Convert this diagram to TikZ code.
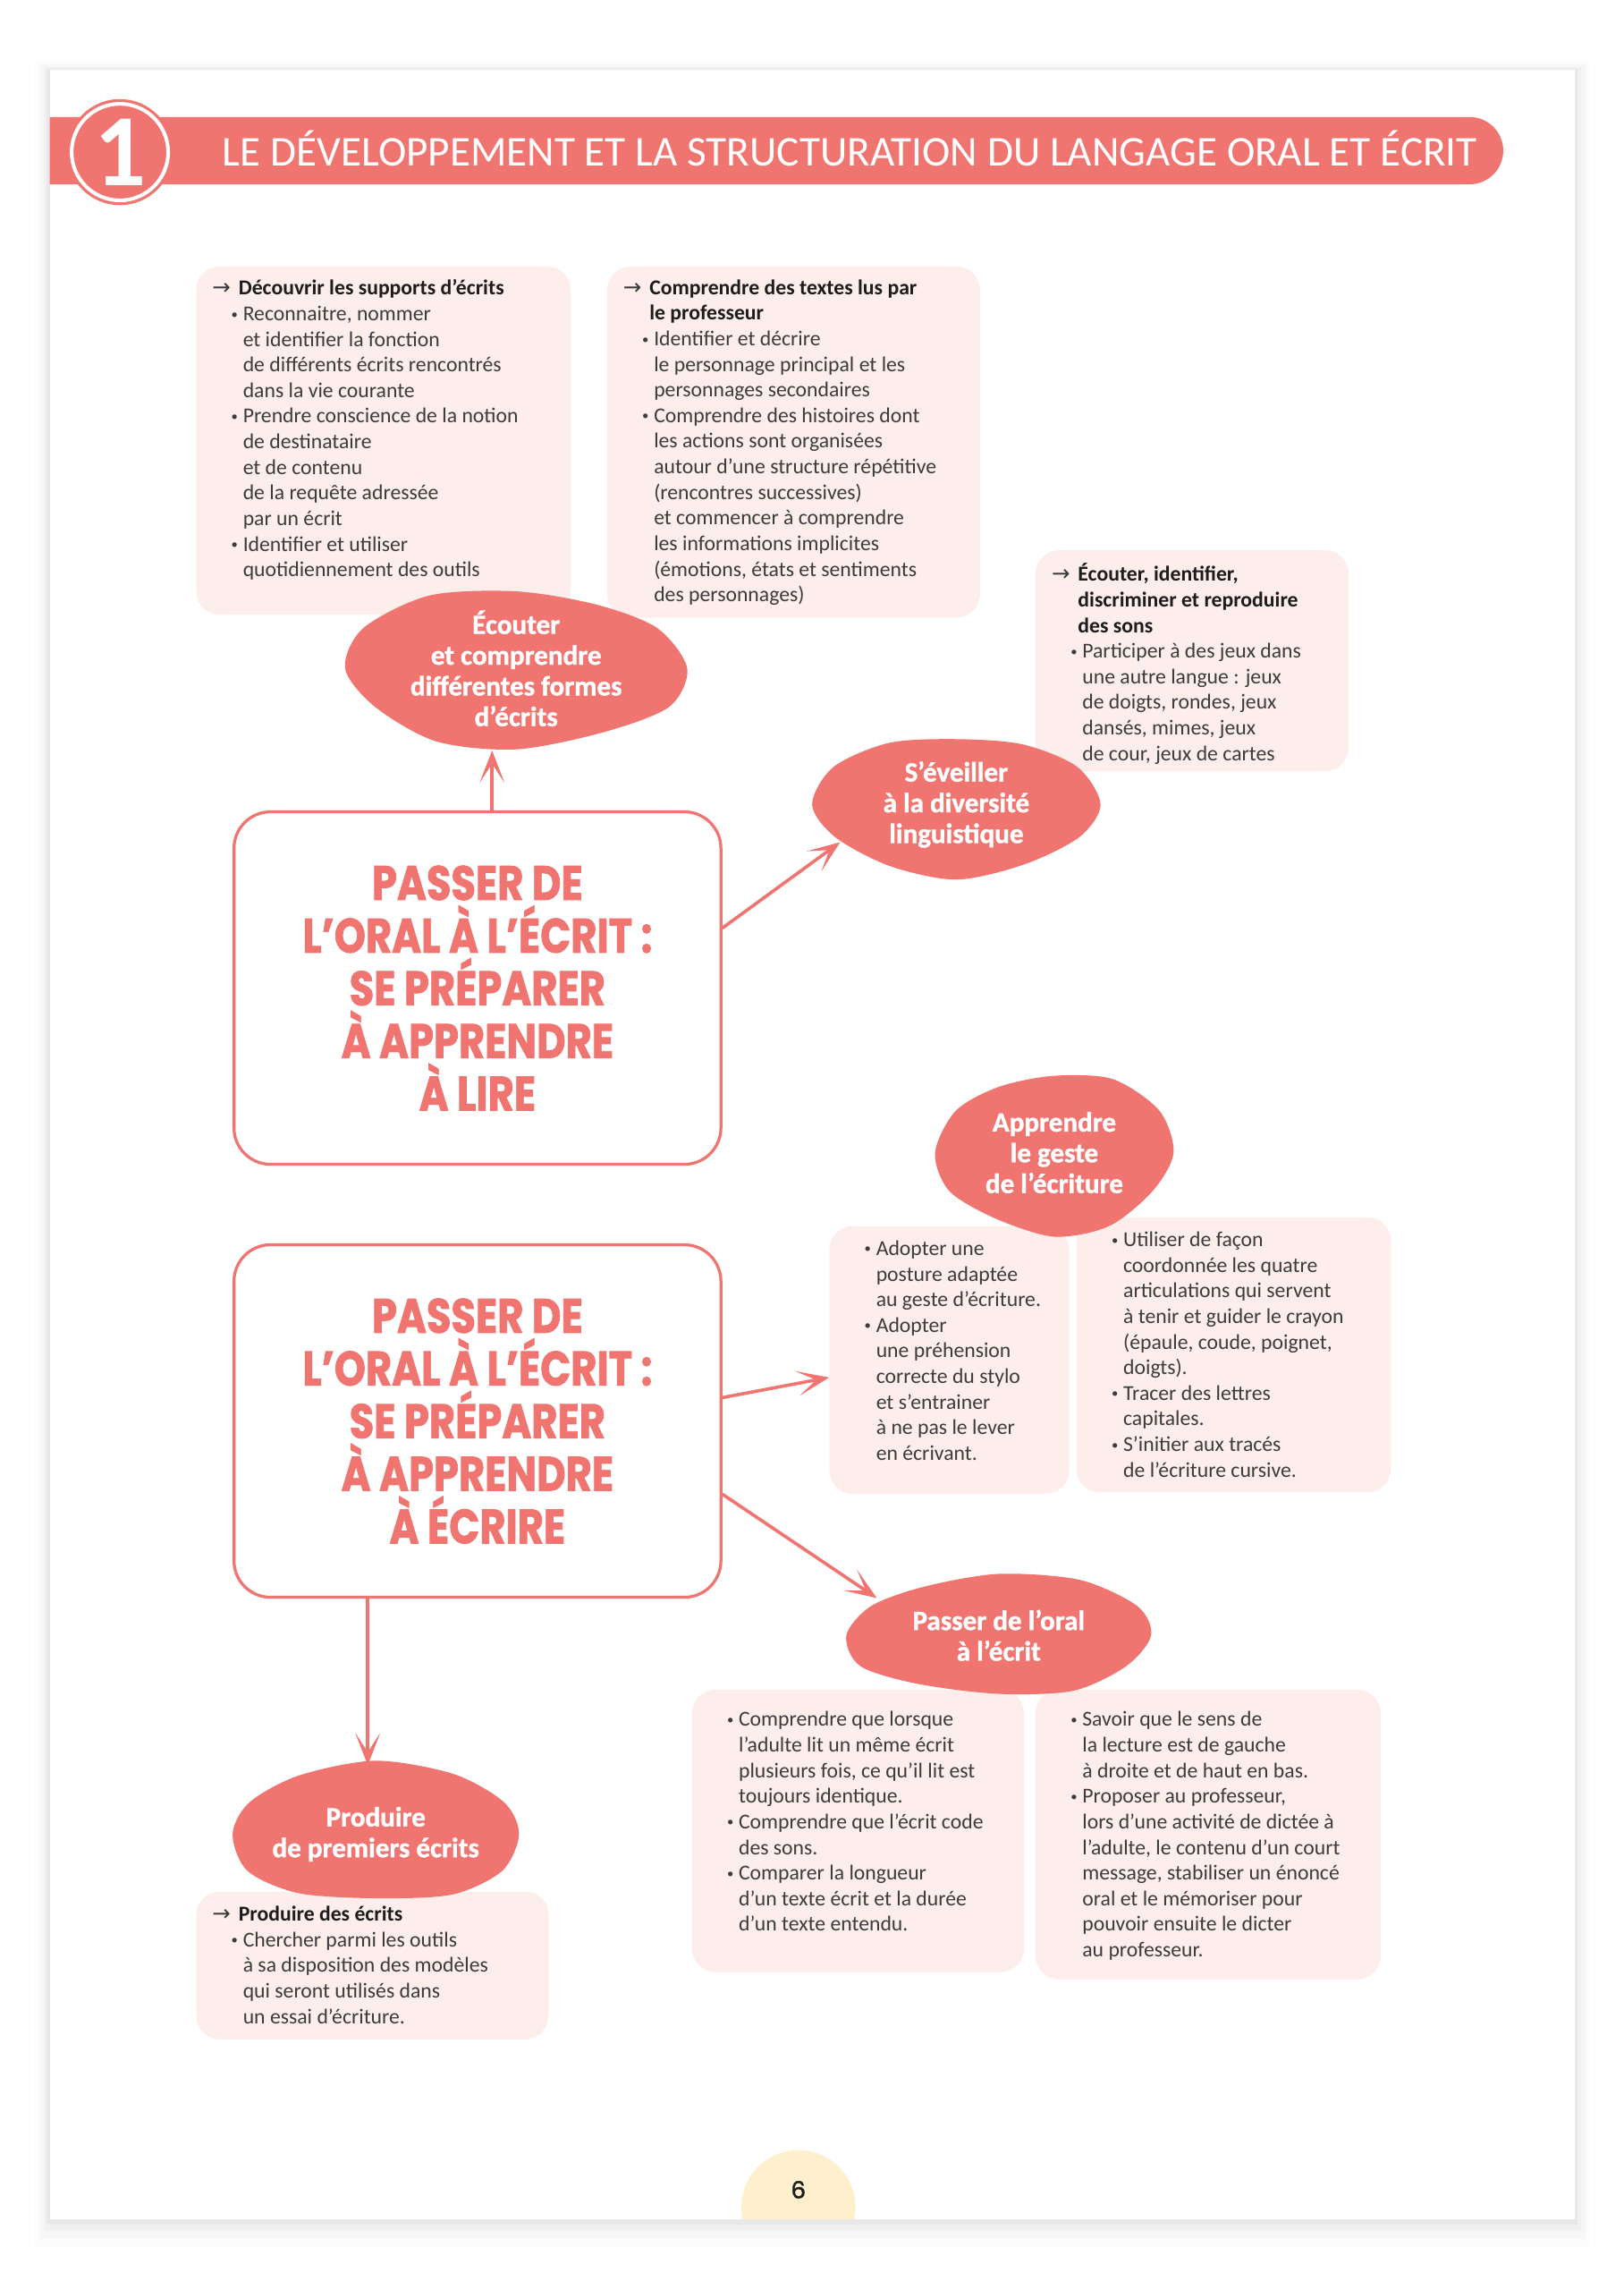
\documentclass[tikz,border=0pt]{standalone}
\usepackage{fontspec}
\usepackage{graphicx}
\setmainfont{Carlito}
\newfontfamily\heavyfont{Poppins}[FakeBold=1.6]
\newfontfamily\blobfont{Carlito}[BoldFeatures={FakeBold=1.2}]
\newfontfamily\symfont{DejaVu Sans}
\usetikzlibrary{shapes.geometric,arrows.meta}

\definecolor{salmon}{HTML}{F07470}
\definecolor{boxpink}{HTML}{FDEDEB}
\definecolor{bodygray}{HTML}{3C3C3C}
\definecolor{headblack}{HTML}{1C1C1C}
\definecolor{pagenum}{HTML}{FEF0CD}

% lines inside the pink boxes
\newcommand\hd[1]{\makebox[18pt][l]{\symfont\fontsize{15}{15}\selectfont →}\mbox{\bfseries\color{headblack}#1}}
\newcommand\hdc[1]{\hspace*{18pt}\mbox{\bfseries\color{headblack}#1}}
\newcommand\bl[1]{\hspace*{13pt}\makebox[8pt][l]{\raisebox{1.5pt}{\fontsize{9}{9}\selectfont•}}\mbox{#1}}
\newcommand\ct[1]{\hspace*{21pt}\mbox{#1}}
\newcommand\boxtext[4][9]{\begin{minipage}[t][#3pt][t]{#2pt}\fontsize{14.5}{17.5}\selectfont\vspace*{#1pt}#4\end{minipage}}
\newcommand\bigtitle[1]{\scalebox{0.83}[1]{\parbox{380pt}{\centering\lineskiplimit=-60pt #1\par}}}
\newcommand\blobfill[4]{\fill[salmon,shift={(#1)}] plot[smooth cycle,domain=0:330,samples=12]
  ({#2*cos(\x)*(1+0.05*sin(2*\x+#4))},{#3*sin(\x)*(1+0.07*cos(3*\x+#4))});}

\begin{document}
\begin{tikzpicture}[x=1pt,y=-1pt,
    infobox/.style={fill=boxpink,rounded corners=16pt,inner xsep=11pt,inner ysep=0pt,anchor=north west,text=bodygray},
    blobtext/.style={ellipse,inner sep=0pt,text=white,align=center,font=\blobfont\bfseries\fontsize{19}{21}\selectfont},
    bigbox/.style={rectangle,rounded corners=25pt,draw=salmon,line width=2pt,fill=white,
      minimum width=333pt,minimum height=241pt,text=salmon,font=\heavyfont\bfseries\fontsize{33}{36}\selectfont},
    arrowline/.style={draw=salmon,line width=2.2pt,-{Stealth[length=22pt,width=17pt,inset=13pt]}}]

  \useasboundingbox (0,0) rectangle (1110,1565.6);
  \fill[white] (0,0) rectangle (1110,1565.6);

  % page and its shadow
  \foreach \s/\o in {10/0.012,7/0.018,4/0.025,2/0.035}
    \fill[black,opacity=\o] (34-\s,48-\s*0.6) rectangle (1077+\s,1517+\s*2);
  \fill[white] (34,48) rectangle (1077,1517);
  \begin{scope}
    \clip (34,48) rectangle (1077,1517);
    \fill[pagenum] (546,1509) circle[radius=39pt];
  \end{scope}
  \node[font=\heavyfont\fontsize{16}{16}\selectfont,text=headblack] (pnum) at (546,1497) {6};

  % header
  \fill[salmon] (34,80) -- (1005,80) arc[start angle=90,end angle=-90,radius=23pt] -- (34,126) -- cycle;
  \node[circle,fill=salmon,draw=salmon,double=white,double distance=2.5pt,line width=2pt,
    minimum size=66pt,inner sep=0pt,text=white,font=\bfseries\fontsize{70}{70}\selectfont] (num) at (82,104) {1};
  \node[anchor=base west,inner sep=0pt,text=white] (title) at (152,113.5)
    {\resizebox{858pt}{\height}{\fontsize{29}{29}\selectfont LE DÉVELOPPEMENT ET LA STRUCTURATION DU LANGAGE ORAL ET ÉCRIT}};

  % pink boxes
  \node[infobox] (supports) at (134,182) {\boxtext{234}{238}{%
    \hd{Découvrir les supports d’écrits}\\
    \bl{Reconnaitre, nommer}\\
    \ct{et identifier la fonction}\\
    \ct{de différents écrits rencontrés}\\
    \ct{dans la vie courante}\\
    \bl{Prendre conscience de la notion}\\
    \ct{de destinataire}\\
    \ct{et de contenu}\\
    \ct{de la requête adressée}\\
    \ct{par un écrit}\\
    \bl{Identifier et utiliser}\\
    \ct{quotidiennement des outils}}};
  \node[infobox] (textes) at (415,182) {\boxtext{233}{240}{%
    \hd{Comprendre des textes lus par}\\
    \hdc{le professeur}\\
    \bl{Identifier et décrire}\\
    \ct{le personnage principal et les}\\
    \ct{personnages secondaires}\\
    \bl{Comprendre des histoires dont}\\
    \ct{les actions sont organisées}\\
    \ct{autour d’une structure répétitive}\\
    \ct{(rencontres successives)}\\
    \ct{et commencer à comprendre}\\
    \ct{les informations implicites}\\
    \ct{(émotions, états et sentiments}\\
    \ct{des personnages)}}};
  \node[infobox] (sons) at (708,376) {\boxtext{192}{151}{%
    \hd{Écouter, identifier,}\\
    \hdc{discriminer et reproduire}\\
    \hdc{des sons}\\
    \bl{Participer à des jeux dans}\\
    \ct{une autre langue : jeux}\\
    \ct{de doigts, rondes, jeux}\\
    \ct{dansés, mimes, jeux}\\
    \ct{de cour, jeux de cartes}}};
  \node[infobox] (posture) at (567,838) {\boxtext[10]{142}{183}{%
    \bl{Adopter une}\\
    \ct{posture adaptée}\\
    \ct{au geste d’écriture.}\\
    \bl{Adopter}\\
    \ct{une préhension}\\
    \ct{correcte du stylo}\\
    \ct{et s’entrainer}\\
    \ct{à ne pas le lever}\\
    \ct{en écrivant.}}};
  \node[infobox] (tracer) at (736,832) {\boxtext[10]{193}{188}{%
    \bl{Utiliser de façon}\\
    \ct{coordonnée les quatre}\\
    \ct{articulations qui servent}\\
    \ct{à tenir et guider le crayon}\\
    \ct{(épaule, coude, poignet,}\\
    \ct{doigts).}\\
    \bl{Tracer des lettres}\\
    \ct{capitales.}\\
    \bl{S’initier aux tracés}\\
    \ct{de l’écriture cursive.}}};
  \node[infobox] (lecture) at (473,1155) {\boxtext[15]{205}{193}{%
    \bl{Comprendre que lorsque}\\
    \ct{l’adulte lit un même écrit}\\
    \ct{plusieurs fois, ce qu’il lit est}\\
    \ct{toujours identique.}\\
    \bl{Comprendre que l’écrit code}\\
    \ct{des sons.}\\
    \bl{Comparer la longueur}\\
    \ct{d’un texte écrit et la durée}\\
    \ct{d’un texte entendu.}}};
  \node[infobox] (dictee) at (708,1155) {\boxtext[15]{214}{198}{%
    \bl{Savoir que le sens de}\\
    \ct{la lecture est de gauche}\\
    \ct{à droite et de haut en bas.}\\
    \bl{Proposer au professeur,}\\
    \ct{lors d’une activité de dictée à}\\
    \ct{l’adulte, le contenu d’un court}\\
    \ct{message, stabiliser un énoncé}\\
    \ct{oral et le mémoriser pour}\\
    \ct{pouvoir ensuite le dicter}\\
    \ct{au professeur.}}};
  \node[infobox] (modeles) at (134,1293) {\boxtext[10]{219}{101}{%
    \hd{Produire des écrits}\\
    \bl{Chercher parmi les outils}\\
    \ct{à sa disposition des modèles}\\
    \ct{qui seront utilisés dans}\\
    \ct{un essai d’écriture.}}};

  % blobs
  \coordinate (c1) at (353,457);
  \coordinate (c2) at (654,550);
  \coordinate (c3) at (721,788);
  \coordinate (c4) at (683,1118);
  \coordinate (c5) at (257,1254);
  \blobfill{c1}{115}{54}{20}
  \blobfill{c2}{94}{48}{80}
  \blobfill{c3}{79}{55}{140}
  \blobfill{c4}{106}{41}{200}
  \blobfill{c5}{103}{47}{260}
  \node[blobtext,minimum width=230pt,minimum height=108pt] (ecouter) at (c1) {Écouter\\et comprendre\\différentes formes\\d’écrits};
  \node[blobtext,minimum width=188pt,minimum height=96pt] (eveil) at (c2) {S’éveiller\\à la diversité\\linguistique};
  \node[blobtext,minimum width=158pt,minimum height=110pt] (geste) at (c3) {Apprendre\\le geste\\de l’écriture};
  \node[blobtext,minimum width=212pt,minimum height=82pt] (oral) at (c4) {Passer de l’oral\\à l’écrit};
  \node[blobtext,minimum width=206pt,minimum height=94pt] (produire) at (c5) {Produire\\de premiers écrits};

  % main boxes
  \node[bigbox] (lire) at (326.5,675.5) {\bigtitle{PASSER DE\\L’ORAL À L’ÉCRIT :\\SE PRÉPARER\\À APPRENDRE\\À LIRE}};
  \node[bigbox] (ecrire) at (326.5,971.5) {\bigtitle{PASSER DE\\L’ORAL À L’ÉCRIT :\\SE PRÉPARER\\À APPRENDRE\\À ÉCRIRE}};

  % arrows
  \draw[arrowline] ([xshift=10pt]lire.north) -- ([xshift=10pt]lire.north |- ecouter.south);
  \draw[arrowline] ([yshift=41pt]lire.east) -- (eveil.198);
  \draw[arrowline] ([yshift=16pt]ecrire.east) -- ([yshift=-12pt]posture.west);
  \draw[arrowline] ([yshift=-50pt]ecrire.east) -- (oral.163);
  \draw[arrowline] ([xshift=-75pt]ecrire.south) -- ([xshift=-75pt]ecrire.south |- produire.north);
\end{tikzpicture}
\end{document}
